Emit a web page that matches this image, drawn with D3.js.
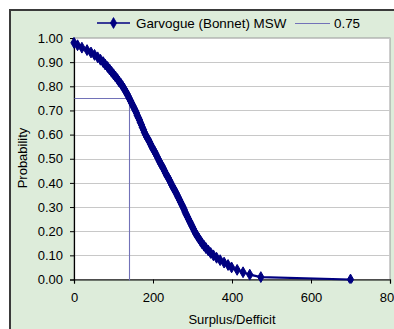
<!DOCTYPE html>
<html><head><meta charset="utf-8">
<script src="https://cdn.jsdelivr.net/npm/d3@7"></script>
<style>html,body{margin:0;padding:0;background:#fff;}svg{display:block;}</style>
</head><body>
<svg id="c" width="394" height="329"></svg>
<script>
const seriesName = "Garvogue (Bonnet) MSW";
const refName = "0.75";
const surplus = [0,9,20,33,43,52,60,67,74,79,85,90,95,100,105,110,114,119,123,127,130,134,137,140,143,146,149,152,155,158,160,163,166,168,171,173,176,178,181,184,188,191,194,197,200,204,207,210,213,216,219,223,226,229,232,235,239,242,245,248,251,255,258,261,264,267,270,273,276,279,281,284,287,290,293,296,299,302,305,308,312,316,320,324,329,334,340,346,353,361,370,380,390,399,413,428,445,473,700];
const probability = [0.98,0.97,0.96,0.95,0.94,0.93,0.92,0.91,0.90,0.89,0.88,0.87,0.86,0.85,0.84,0.83,0.82,0.81,0.80,0.79,0.78,0.77,0.76,0.75,0.74,0.73,0.72,0.71,0.70,0.69,0.68,0.67,0.66,0.65,0.64,0.63,0.62,0.61,0.60,0.59,0.58,0.57,0.56,0.55,0.54,0.53,0.52,0.51,0.50,0.49,0.48,0.47,0.46,0.45,0.44,0.43,0.42,0.41,0.40,0.39,0.38,0.37,0.36,0.35,0.34,0.33,0.32,0.31,0.30,0.29,0.28,0.27,0.26,0.25,0.24,0.23,0.22,0.21,0.20,0.19,0.18,0.17,0.16,0.15,0.14,0.13,0.12,0.11,0.10,0.09,0.08,0.07,0.06,0.05,0.04,0.03,0.02,0.01,0.00];
const refX = [0,140,140];
const refY = [0.75,0.75,0];
const xTicks = [0,200,400,600,800];
const yTicks = [0,0.1,0.2,0.3,0.4,0.5,0.6,0.7,0.8,0.9,1.0];
const xTitle = "Surplus/Defficit";
const yTitle = "Probability";

const svg = d3.select("#c");
const font = "'Liberation Sans', Arial, sans-serif";
const bg = "#ddecda";
const navy = "#000080";
const refColor = "#7272b8";

// frame
svg.append("rect").attr("x",10).attr("y",10).attr("width",400).attr("height",330)
  .attr("fill",bg).attr("stroke","#3a3a3a").attr("stroke-width",2);

const L=74, R=390, T=38, B=279.5;
const x = d3.scaleLinear().domain([0,800]).range([L,R]);
const y = d3.scaleLinear().domain([0,1]).range([B,T]);

svg.append("rect").attr("x",L).attr("y",T).attr("width",R-L).attr("height",B-T)
  .attr("fill","#fff").attr("stroke","#9a9a9a").attr("stroke-width",1);

// gridlines
svg.append("g").selectAll("line").data(yTicks.filter(d=>d>0)).join("line")
  .attr("x1",L).attr("x2",R).attr("y1",d=>Math.round(y(d))+0.5).attr("y2",d=>Math.round(y(d))+0.5)
  .attr("stroke","#c8c8c8").attr("stroke-width",1.2);

// axes
const gy = svg.append("g").attr("transform",`translate(${L},0)`)
  .call(d3.axisLeft(y).tickValues(yTicks).tickFormat(d3.format(".2f")).tickSize(4).tickPadding(7));
const gx = svg.append("g").attr("transform",`translate(0,${B})`)
  .call(d3.axisBottom(x).tickValues(xTicks).tickFormat(d3.format("d")).tickSize(4).tickPadding(9));
[gx,gy].forEach(g=>{
  g.select(".domain").attr("stroke","#000").attr("stroke-width",1.2);
  g.selectAll(".tick line").attr("stroke","#000");
  g.selectAll("text").attr("font-family",font).attr("font-size",13).attr("fill","#000");
});

// clip
svg.append("clipPath").attr("id","clip").append("rect").attr("x",L-4).attr("y",T-4).attr("width",R-L+8).attr("height",B-T+8);

// reference line 0.75
const refLine = d3.line().x((d,i)=>Math.round(x(refX[i]))+0.5).y((d,i)=>Math.round(y(refY[i]))+0.5);
svg.append("path").attr("d",refLine(refX)).attr("fill","none").attr("stroke",refColor).attr("stroke-width",1.1);

// series
const line = d3.line().x((d,i)=>x(surplus[i])).y((d,i)=>y(probability[i]));
const sg = svg.append("g").attr("clip-path","url(#clip)");
sg.append("path").attr("d",line(surplus)).attr("fill","none").attr("stroke",navy).attr("stroke-width",2.2);
const diamond = d3.symbol().type(d3.symbolDiamond).size(34);
sg.selectAll("path.m").data(surplus).join("path").attr("class","m")
  .attr("d",diamond).attr("transform",(d,i)=>`translate(${x(d)},${y(probability[i])})`)
  .attr("fill",navy).attr("stroke",navy).attr("stroke-width",1);

// legend
const ly = 23;
svg.append("line").attr("x1",97).attr("x2",130).attr("y1",ly).attr("y2",ly).attr("stroke",navy).attr("stroke-width",1.6);
svg.append("path").attr("d",diamond).attr("transform",`translate(113.5,${ly})`).attr("fill",navy).attr("stroke",navy).attr("stroke-width",0.8);
svg.append("text").attr("x",136).attr("y",ly+4.5).text(seriesName).attr("font-family",font).attr("font-size",13.4);
svg.append("line").attr("x1",295).attr("x2",330).attr("y1",ly+0.5).attr("y2",ly+0.5).attr("stroke",refColor).attr("stroke-width",1.1);
svg.append("text").attr("x",334).attr("y",ly+4.5).text(refName).attr("font-family",font).attr("font-size",13.4);

// titles
svg.append("text").attr("x",232).attr("y",324).attr("text-anchor","middle").text(xTitle)
  .attr("font-family",font).attr("font-size",13);
svg.append("text").attr("transform","translate(27,158) rotate(-90)").attr("text-anchor","middle").text(yTitle)
  .attr("font-family",font).attr("font-size",13);
</script>
</body></html>
